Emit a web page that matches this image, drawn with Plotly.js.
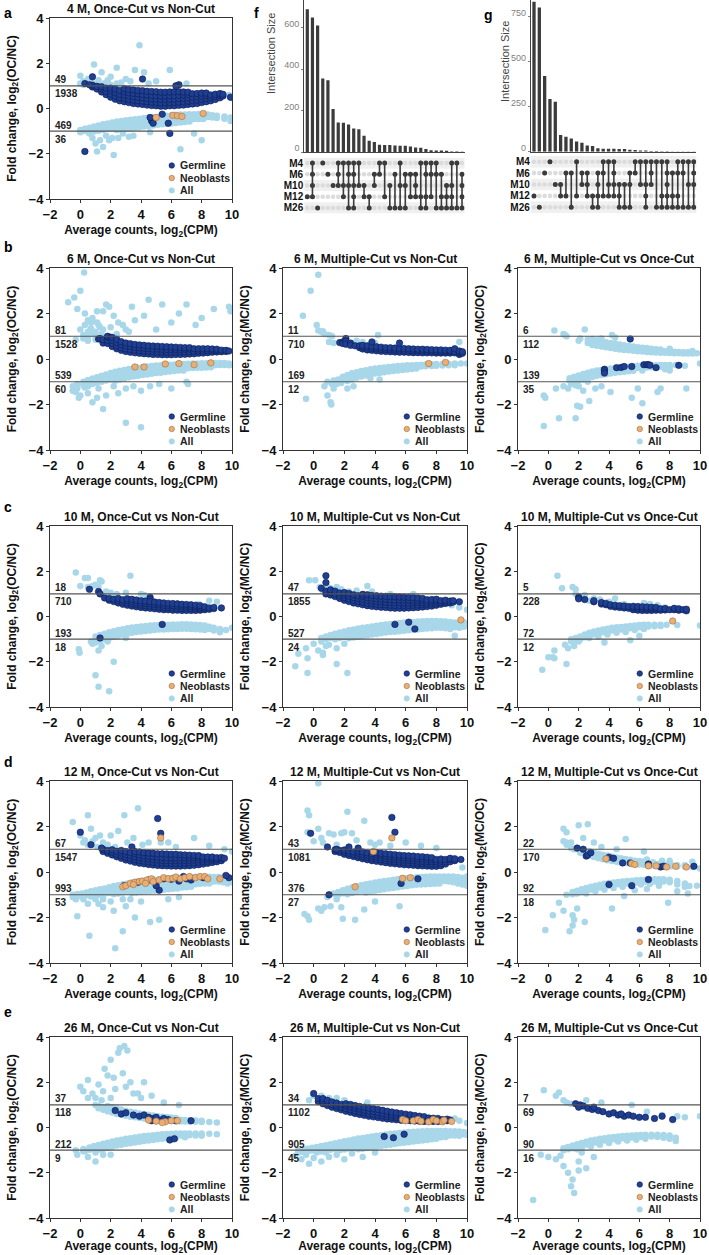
<!DOCTYPE html>
<html><head><meta charset="utf-8">
<script src="https://cdn.plot.ly/plotly-3.0.1.min.js"></script>
<style>html,body{margin:0;padding:0;background:#fff}#chart{width:709px;height:1255px}</style>
</head><body><div id="chart"></div>
<script>
// ---------- DATA (each entry: [x, y1, y2, ...] = points sharing an x value) ----------
// 4 M, Once-Cut vs Non-Cut
const counts_m4_oc=[49,1938,469,36];
const m4_oc_germ=[[0.8,0.95,1.03,1.4],[1.1,0.86,0.98],[1.4,0.73,0.86,0.96],[1.7,0.61,0.75,0.9],[2.0,0.5,0.64,0.78,0.9],[2.3,0.41,0.55,0.7,0.86],[2.6,0.34,0.48,0.63,0.8],[2.9,0.3,0.45,0.6,0.74,0.87],[3.2,0.26,0.4,0.55,0.7,0.84],[3.5,0.22,0.37,0.52,0.67,0.82],[3.8,0.2,0.35,0.5,0.65,0.8],[4.1,0.18,0.33,0.48,0.63,0.79,1.3],[4.4,0.15,0.3,0.45,0.6,0.76],[4.7,0.13,0.28,0.43,0.58,0.75,-0.55],[5.0,0.12,0.27,0.42,0.57,0.74],[5.3,0.1,0.25,0.4,0.55,0.72],[5.6,0.1,0.25,0.4,0.55,0.72],[5.9,0.12,0.26,0.41,0.56,0.73,-1.1],[6.2,0.12,0.27,0.42,0.57,0.74],[6.5,0.14,0.28,0.43,0.58,0.74,1.05],[6.8,0.15,0.3,0.45,0.6,0.73],[7.1,0.18,0.32,0.47,0.62,0.72],[7.4,0.2,0.35,0.5,0.65],[7.7,0.22,0.37,0.52,0.66],[8.0,0.26,0.4,0.55,0.68],[8.3,0.3,0.44,0.58,0.68],[8.6,0.34,0.48,0.6],[8.9,0.4,0.53,0.63],[9.2,0.47,0.58,0.66],[9.4,0.55,0.63],[0.3,-1.9,1.1],[0.6,1.05],[4.6,-0.4],[4.8,-0.65],[5.8,-0.65],[5.4,-0.25],[6.3,1.0],[9.9,0.5]];
const m4_oc_neo=[[5.0,-0.4],[6.1,-0.3],[6.4,-0.32],[6.7,-0.35],[8.1,-0.22]];
const m4_oc_all=[[0.0,1.45,1.1],[0.2,1.2,1.05],[0.5,1.3,1.1],[0.7,1.15,1.0],[0.9,1.95,1.1],[1.2,1.25,1.05],[1.4,1.6],[1.6,1.12],[1.8,1.25],[2.0,1.4,1.05],[2.4,1.8,1.1],[2.7,1.15],[3.0,1.3],[3.3,1.2],[3.6,1.7],[3.9,2.8],[4.2,1.6],[4.5,1.1],[5.0,1.2],[5.9,1.7],[7.0,1.1],[9.8,0.6],[10,0.45],
[0.0,-0.95,-1.05],[0.3,-0.9,-1.0],[0.6,-0.85,-0.97],[0.9,-0.8,-0.92,-1.02],[1.2,-0.75,-0.88,-0.98],[1.5,-0.7,-0.82,-0.95],[1.8,-0.66,-0.78,-0.9],[2.1,-0.62,-0.74,-0.87],[2.4,-0.58,-0.7,-0.84,-0.95],[2.7,-0.55,-0.67,-0.8,-0.92],[3.0,-0.52,-0.64,-0.77,-0.9],[3.3,-0.5,-0.62,-0.75,-0.88],[3.6,-0.47,-0.6,-0.72,-0.85],[3.9,-0.45,-0.57,-0.7,-0.83],[4.2,-0.42,-0.55,-0.68,-0.8],[4.5,-0.4,-0.52,-0.65,-0.78],[4.8,-0.38,-0.5,-0.62,-0.75],[5.1,-0.36,-0.48,-0.6,-0.72],[5.4,-0.34,-0.46,-0.58,-0.7],[5.7,-0.32,-0.44,-0.56,-0.68],[6.0,-0.3,-0.42,-0.54,-0.66],[6.3,-0.28,-0.4,-0.52,-0.64],[6.6,-0.27,-0.38,-0.5,-0.62],[6.9,-0.26,-0.37,-0.48,-0.6],[7.2,-0.25,-0.36,-0.47,-0.58],[7.5,-0.25,-0.35,-0.46],[7.8,-0.24,-0.35,-0.46],[8.1,-0.25,-0.35,-0.46],[8.4,-0.27,-0.38],[8.7,-0.3,-0.4],[9.0,-0.32,-0.42],[9.5,-0.35,-0.45],[9.9,-0.4,-0.55],
[0.6,-1.1],[0.8,-1.3],[1.0,-1.55],[1.1,-1.9],[1.3,-1.4],[1.5,-1.7],[1.7,-1.2],[1.9,-1.4],[2.1,-1.3],[2.2,-2.05],[2.5,-1.3],[2.8,-1.1],[3.2,-1.25],[3.5,-1.2],[4.6,-1.05],[6.6,-1.8],[7.5,-1.1],[8.0,-1.4]];

// 6 M, Once-Cut vs Non-Cut
const counts_m6_oc=[81,1528,539,60];
const m6_oc_germ=[[1.2,0.88],[1.3,0.9],[1.5,0.7,0.85],[1.8,0.68,0.82,0.97,1.0],[2.0,0.95],[2.1,0.55,0.68,0.82,0.95],[2.4,0.45,0.58,0.72,0.86],[2.7,0.38,0.5,0.63,0.76],[3.0,0.33,0.45,0.58,0.7],[3.3,0.3,0.42,0.55,0.67],[3.6,0.27,0.39,0.52,0.64],[3.9,0.25,0.37,0.5,0.62],[4.2,0.23,0.35,0.48,0.6],[4.5,0.22,0.34,0.46,0.58],[4.8,0.2,0.32,0.44,0.57],[5.1,0.2,0.32,0.44,0.56],[5.4,0.19,0.31,0.43,0.55],[5.7,0.19,0.3,0.42,0.54],[6.0,0.19,0.3,0.42,0.53],[6.3,0.2,0.31,0.42,0.52],[6.6,0.2,0.31,0.42,0.51],[6.9,0.21,0.32,0.43,0.5],[7.2,0.22,0.33,0.44,0.5],[7.5,0.23,0.34,0.45],[7.8,0.25,0.35,0.45],[8.1,0.26,0.36,0.45],[8.4,0.28,0.37,0.45],[8.7,0.3,0.38,0.44],[9.0,0.31,0.38,0.43],[9.3,0.32,0.39],[9.6,0.33,0.38],[9.8,0.35]];
const m6_oc_neo=[[3.6,-0.35],[4.2,-0.35],[5.6,-0.22],[6.5,-0.2],[7.5,-0.25],[8.6,-0.17]];
const m6_oc_all=[[-0.8,2.5],[-0.4,2.7],[0.0,3.0,1.3],[0.25,3.8],[-0.2,2.2],[0.3,2.0,1.5],[0.5,1.7,1.2],[0.7,1.6,1.35],[0.8,1.8],[1.1,1.6,2.1],[1.3,1.4],[1.0,1.2,0.85,1.0],[1.5,1.3,2.1],[1.7,2.4],[1.9,2.3],[2.0,1.4],[2.2,1.9],[2.5,1.6],[2.8,1.5],[3.0,1.3],[3.4,2.3],[3.6,1.7],[4.2,1.9],[4.5,2.6],[5.0,1.3],[5.4,2.4],[6.0,1.6],[6.5,2.0],[7.0,2.4],[7.6,1.5],[8.0,1.8],[8.8,2.2],[9.8,2.3],[9.9,2.1],[0.9,1.1],[1.4,1.1],[2.4,1.1],[3.2,1.2],[0.6,1.2],[-0.3,0.85],[0.2,0.9,1.05],[0.5,0.8,0.95],[1.2,1.5],
[-0.5,-1.2,-1.4],[-0.2,-1.1,-1.3],[0.2,-1.0,-1.15],[0.5,-0.92,-1.05,-1.2],[0.8,-0.86,-0.98,-1.1],[1.1,-0.8,-0.92,-1.05],[1.4,-0.74,-0.86,-1.0],[1.7,-0.68,-0.8,-0.95],[2.0,-0.62,-0.75,-0.9],[2.3,-0.56,-0.69,-0.83,-0.96],[2.6,-0.52,-0.64,-0.77,-0.9],[2.9,-0.48,-0.6,-0.73,-0.86],[3.2,-0.44,-0.56,-0.68,-0.8],[3.5,-0.41,-0.53,-0.65,-0.77],[3.8,-0.38,-0.5,-0.62,-0.74],[4.1,-0.36,-0.47,-0.59,-0.7],[4.4,-0.33,-0.44,-0.56,-0.68],[4.7,-0.31,-0.42,-0.53,-0.65],[5.0,-0.29,-0.4,-0.51,-0.62],[5.3,-0.27,-0.38,-0.49,-0.6],[5.6,-0.26,-0.36,-0.47,-0.57],[5.9,-0.25,-0.35,-0.45,-0.55],[6.2,-0.24,-0.34,-0.44,-0.53],[6.5,-0.23,-0.33,-0.43,-0.51],[6.8,-0.22,-0.32,-0.42,-0.5],[7.1,-0.21,-0.31,-0.41],[7.4,-0.2,-0.3,-0.4],[7.7,-0.2,-0.3,-0.39],[8.0,-0.19,-0.29,-0.38],[8.3,-0.19,-0.28,-0.37],[8.6,-0.18,-0.27,-0.36],[8.9,-0.18,-0.27],[9.2,-0.18,-0.26],[9.5,-0.18,-0.26],[9.8,-0.2,-0.28],[10,-0.25],
[-0.3,-1.45],[-0.1,-1.7],[0.0,-1.6],[0.3,-1.25],[0.5,-1.5],[0.8,-1.9],[1.2,-1.3],[1.5,-2.2],[1.7,-1.6],[1.1,-1.7],[2.2,-1.2],[2.5,-1.5],[3.0,-1.3,-2.8],[3.5,-1.2],[4.0,-1.4,-3.0],[4.6,-1.2],[5.2,-1.1],[6.0,-1.3],[7.1,-1.1],[7.0,-1.0]];

// 6 M, Multiple-Cut vs Non-Cut
const counts_m6_mc=[11,710,169,12];
const m6_mc_germ=[[1.7,0.72],[1.9,0.75,0.68],[2.1,0.9,0.78,0.65],[2.4,0.7,0.6],[2.7,0.58],[3.0,0.5,0.58],[3.2,0.44,0.53,0.6],[3.5,0.4,0.5,0.58],[3.8,0.38,0.47,0.56,0.75],[4.1,0.36,0.45,0.54],[4.4,0.34,0.43,0.52],[4.7,0.33,0.42,0.5],[5.0,0.32,0.41,0.49],[5.3,0.31,0.4,0.48],[5.6,0.3,0.39,0.47,0.7],[5.9,0.3,0.38,0.46],[6.2,0.29,0.37,0.45],[6.5,0.28,0.36,0.44],[6.8,0.28,0.36,0.43],[7.1,0.27,0.35,0.43],[7.4,0.27,0.35,0.42],[7.7,0.27,0.34,0.41],[8.0,0.26,0.33,0.4],[8.3,0.26,0.33,0.4],[8.6,0.26,0.32,0.39],[8.9,0.26,0.32,0.38],[9.2,0.27,0.33,0.45],[9.5,0.2,0.28,0.35],[9.7,0.25,0.32]];
const m6_mc_neo=[[7.5,-0.2],[8.6,-0.15]];
const m6_mc_all=[[-0.7,1.9],[-0.2,3.0],[0.3,3.7,1.25],[0.2,1.5],[0.5,1.2],[0.7,1.1],[0.6,1.22],[1.0,1.05,0.75],[1.2,1.0],[1.3,0.7],[2.5,0.7],[2.8,0.8],[3.2,0.75],[4.2,1.05],[4.0,0.7],[9.5,0.75],[10,-0.2],
[1.3,-0.95],[1.6,-0.9,-1.0],[1.9,-0.78,-0.92],[2.2,-0.7,-0.84,-0.97],[2.5,-0.63,-0.76,-0.9],[2.8,-0.58,-0.7,-0.82],[3.1,-0.53,-0.65,-0.77],[3.4,-0.49,-0.6,-0.72],[3.7,-0.45,-0.56,-0.68,-0.85],[4.0,-0.42,-0.53,-0.64],[4.3,-0.4,-0.5,-0.62,-0.9],[4.6,-0.37,-0.47,-0.58],[4.9,-0.35,-0.45,-0.55],[5.2,-0.33,-0.43,-0.53],[5.5,-0.31,-0.41,-0.5],[5.8,-0.3,-0.39,-0.48],[6.1,-0.28,-0.37,-0.46],[6.4,-0.27,-0.36,-0.44],[6.7,-0.26,-0.34,-0.42],[7.0,-0.25,-0.33],[7.3,-0.24,-0.32],[7.7,-0.23,-0.31],[8.0,-0.22,-0.3],[8.4,-0.22,-0.29],[8.8,-0.21,-0.28],[9.2,-0.2,-0.27],[9.6,-0.2],
[-0.5,-1.75],[0.7,-1.2],[0.9,-1.6,-1.0],[1.1,-1.9],[1.15,-2.0],[1.2,-1.1],[1.5,-1.1],[1.8,-1.05],[2.2,-1.3],[2.6,-1.2],[1.3,-1.3]];

// 6 M, Multiple-Cut vs Once-Cut
const counts_m6_mcoc=[6,112,139,35];
const m6_mcoc_germ=[[3.7,-0.45,-0.52,-0.62],[4.5,-0.38],[4.8,-0.37],[5.0,-0.33],[5.5,-0.33],[6.3,-0.25],[6.5,-0.25],[6.6,-0.25],[6.7,-0.27],[7.1,-0.38],[8.6,-0.28],[5.4,0.88]];
const m6_mcoc_neo=[];
const m6_mcoc_all=[[0.4,1.25],[1.0,1.1],[1.1,1.05],[1.2,1.0],[2.0,0.8],[2.4,1.3],[2.1,0.9],[2.6,0.7,0.85],[2.9,0.62,0.75,0.88],[3.2,0.58,0.7,0.82],[3.5,0.55,0.66,0.78,0.9],[3.8,0.52,0.62,0.74],[4.1,0.48,0.6,0.7],[4.2,1.05],[4.4,0.45,0.56,0.68,0.95],[4.7,0.42,0.53,0.64],[5.0,0.4,0.5,0.6],[5.3,0.38,0.47,0.57],[5.6,0.36,0.45,0.55],[5.9,0.34,0.43,0.52],[6.2,0.33,0.41,0.5],[6.5,0.31,0.39,0.48],[6.8,0.3,0.37,0.45],[7.1,0.29,0.36,0.43],[7.4,0.28,0.35,0.42],[7.7,0.27,0.34],[8.0,0.26,0.33,0.45],[8.3,0.25,0.32],[8.6,0.25,0.31],[8.9,0.24,0.3],[9.2,0.24,0.3],[9.5,0.24,0.35],[9.8,0.25],[10,-0.2],
[1.4,-0.85,-0.95],[1.7,-0.78,-0.9,-1.0],[2.0,-0.72,-0.84,-0.96],[2.3,-0.66,-0.78,-0.9],[2.6,-0.6,-0.72,-0.84],[2.9,-0.55,-0.67,-0.79],[3.2,-0.51,-0.62,-0.74],[3.5,-0.48,-0.59,-0.7],[3.8,-0.45,-0.56,-0.67],[4.1,-0.42,-0.53,-0.64],[4.4,-0.4,-0.5,-0.6],[4.7,-0.38,-0.48,-0.58],[5.0,-0.36,-0.46,-0.56],[5.3,-0.34,-0.44,-0.54],[5.6,-0.32,-0.42,-0.52],[5.9,-0.3,-0.4],[6.2,-0.29,-0.38,-0.5],[6.5,-0.28,-0.37],[6.8,-0.27,-0.36],[7.1,-0.27,-0.35],[7.4,-0.26,-0.34],[7.7,-0.26,-0.34,-0.45],[8.0,-0.26,-0.35,-0.5],[8.4,-0.26],[9.0,-0.3],
[-0.3,-1.6,-2.95],[-0.2,-1.7],[0.7,-2.6],[0.5,-1.3],[1.0,-1.2],[1.5,-1.1],[1.8,-2.6,-1.15],[1.9,-2.05],[2.1,-2.1],[2.0,-1.2],[2.3,-1.4],[2.7,-1.85],[3.1,-1.3],[3.5,-1.2],[4.1,-1.45],[5.5,-1.7],[5.9,-1.3],[6.2,-1.95],[7.2,-1.45],[7.4,-1.3],[9.1,-1.3],[1.3,-1.3],[2.6,-1.0]];

// 10 M, Once-Cut vs Non-Cut
const counts_m10_oc=[18,710,193,18];
const m10_oc_germ=[[0.6,1.2],[1.2,1.1],[1.3,1.0,-0.95],[1.6,0.82],[5.4,-0.35],[9.3,0.38],[4.6,0.85,0.75],[1.9,0.72,0.8],[2.2,0.66,0.76],[2.5,0.6,0.7,0.8],[2.8,0.54,0.64,0.74],[3.1,0.5,0.6,0.7,0.78],[3.4,0.46,0.56,0.66,0.76],[3.7,0.43,0.53,0.63,0.73],[4.0,0.4,0.5,0.6,0.7],[4.3,0.38,0.48,0.58,0.68],[4.6,0.36,0.46,0.56,0.66],[4.9,0.34,0.44,0.54,0.64],[5.2,0.32,0.42,0.52,0.62],[5.5,0.3,0.4,0.5,0.6],[5.8,0.3,0.39,0.49,0.58],[6.1,0.28,0.38,0.48,0.57],[6.4,0.28,0.37,0.47,0.56],[6.7,0.27,0.36,0.46,0.54],[7.0,0.27,0.36,0.45,0.53],[7.3,0.27,0.35,0.44,0.52],[7.6,0.27,0.35,0.43,0.5],[7.9,0.28,0.35,0.42,0.48],[8.2,0.3,0.37,0.43],[8.5,0.32,0.38],[8.8,0.35,0.4]];
const m10_oc_neo=[];
const m10_oc_all=[[-0.3,1.95],[0.0,1.35],[0.3,1.7],[0.5,1.7,1.3],[1.0,1.4],[1.3,1.6],[1.4,1.55],[1.7,1.1],[2.0,1.05],[2.4,1.0],[3.3,1.8],[3.0,1.05],[4.0,1.0],[4.2,0.95],[8.5,0.7],[9.0,0.65],[7.8,0.55],[1.2,1.3],[2.2,0.9],[0.8,1.35],
[1.0,-0.88,-1.05],[1.3,-0.82,-0.95,-1.08],[1.6,-0.76,-0.88,-1.0],[1.9,-0.7,-0.82,-0.95],[2.2,-0.65,-0.77,-0.9],[2.5,-0.6,-0.72,-0.85],[2.8,-0.56,-0.68,-0.8],[3.1,-0.52,-0.64,-0.76],[3.4,-0.49,-0.6,-0.72],[3.7,-0.46,-0.57,-0.69],[4.0,-0.44,-0.55,-0.66],[4.3,-0.42,-0.53,-0.64],[4.6,-0.4,-0.51,-0.62],[4.9,-0.39,-0.49,-0.6],[5.2,-0.38,-0.48,-0.58],[5.5,-0.37,-0.47,-0.57],[5.8,-0.36,-0.46,-0.56],[6.1,-0.35,-0.45,-0.55],[6.4,-0.35,-0.45,-0.55],[6.7,-0.34,-0.44,-0.54],[7.0,-0.34,-0.44,-0.54],[7.3,-0.35,-0.45,-0.55],[7.6,-0.36,-0.46,-0.56],[7.9,-0.38,-0.48,-0.58],[8.2,-0.4,-0.5,-0.6],[8.5,-0.45,-0.55],[8.8,-0.5,-0.62],[9.2,-0.55,-0.7],[9.6,-0.6],[10,-0.5],
[-0.1,-1.45],[-0.05,-1.6],[0.8,-1.2],[1.0,-1.15,-2.6],[1.2,-1.5,-3.1],[1.4,-1.3],[1.9,-3.3],[2.2,-2.0],[1.8,-1.1],[3.0,-0.95],[0.7,-1.1]];

// 10 M, Multiple-Cut vs Non-Cut
const counts_m10_mc=[47,1855,527,24];
const m10_mc_germ=[[0.5,1.25],[0.8,1.8,1.5,1.0,1.12],[9.5,0.65],[5.3,-0.35],[6.2,-0.25],[6.6,-0.55],[1.1,0.95,1.07,1.18],[1.4,0.88,1.0,1.12],[1.7,0.8,0.92,1.04],[2.0,0.72,0.84,0.96,1.06],[2.3,0.66,0.78,0.9,1.02],[2.6,0.6,0.72,0.84,0.96],[2.9,0.56,0.68,0.8,0.92],[3.2,0.52,0.64,0.76,0.88,0.98],[3.5,0.48,0.6,0.72,0.84,0.96],[3.8,0.45,0.57,0.69,0.81,0.93],[4.1,0.43,0.55,0.67,0.79,0.92],[4.4,0.41,0.53,0.65,0.77,0.9],[4.7,0.4,0.52,0.64,0.76,0.89],[5.0,0.38,0.5,0.62,0.74,0.88],[5.3,0.37,0.49,0.61,0.73,0.87],[5.6,0.37,0.49,0.61,0.73,0.86],[5.9,0.37,0.48,0.6,0.72,0.85],[6.2,0.38,0.49,0.6,0.72,0.84],[6.5,0.39,0.5,0.61,0.72,0.83],[6.8,0.4,0.51,0.62,0.72,0.82],[7.1,0.42,0.52,0.62,0.72,0.8],[7.4,0.44,0.54,0.64,0.74],[7.7,0.46,0.56,0.66,0.75],[8.0,0.5,0.59,0.68,0.76],[8.3,0.54,0.62,0.7],[8.6,0.58,0.65,0.72],[8.9,0.6,0.68],[9.1,0.64,0.7]];
const m10_mc_neo=[[9.6,-0.15]];
const m10_mc_all=[[-0.3,1.6],[0.1,1.6],[0.4,1.3],[0.9,1.3],[1.1,1.25],[1.5,1.3],[1.8,1.2],[2.3,1.1],[2.8,1.15],[3.5,1.35],[3.8,1.1],[5.0,1.0],[6.5,1.0],[8.5,0.55],[9.0,0.5],[9.5,0.4],[10,0.3],[0.6,1.15],
[0.5,-0.95],[0.8,-0.88,-1.0],[1.1,-0.82,-0.94],[1.4,-0.76,-0.88,-1.0],[1.7,-0.71,-0.83,-0.95],[2.0,-0.66,-0.78,-0.9],[2.3,-0.61,-0.73,-0.85,-0.96],[2.6,-0.57,-0.69,-0.81,-0.93],[2.9,-0.53,-0.65,-0.77,-0.89],[3.2,-0.5,-0.62,-0.74,-0.86],[3.5,-0.47,-0.59,-0.71,-0.83],[3.8,-0.44,-0.56,-0.68,-0.8],[4.1,-0.41,-0.53,-0.65,-0.77],[4.4,-0.38,-0.5,-0.62,-0.74],[4.7,-0.35,-0.47,-0.59,-0.71],[5.0,-0.33,-0.45,-0.57,-0.69],[5.3,-0.31,-0.43,-0.55,-0.67],[5.6,-0.29,-0.41,-0.53,-0.65],[5.9,-0.27,-0.39,-0.51,-0.63],[6.2,-0.25,-0.37,-0.49,-0.61],[6.5,-0.24,-0.35,-0.47,-0.59],[6.8,-0.22,-0.34,-0.45,-0.57],[7.1,-0.21,-0.32,-0.44,-0.55],[7.4,-0.2,-0.31,-0.42,-0.53],[7.7,-0.2,-0.3,-0.41,-0.52],[8.0,-0.2,-0.3,-0.4,-0.5],[8.3,-0.21,-0.31,-0.41,-0.5],[8.6,-0.22,-0.32,-0.42,-0.52],[8.9,-0.24,-0.34,-0.45,-0.55],[9.2,-0.26,-0.36,-0.48,-0.85],[9.5,-0.28,-0.38,-0.5],[9.8,-0.25,-0.35,-0.45],[10,-0.3,-0.4],
[-1.2,-2.2],[-1.0,-1.65],[-0.5,-1.4],[-0.4,-1.85,-2.5],[0.0,-1.2],[0.3,-1.5],[0.6,-1.7,-1.6],[0.8,-1.3],[1.0,-1.25],[1.5,-1.4,-2.1],[2.0,-1.2],[2.2,-2.5],[0.5,-1.1]];

// 10 M, Multiple-Cut vs Once-Cut
const counts_m10_mcoc=[5,228,72,12];
const m10_mcoc_germ=[[2.0,0.85,0.78],[2.4,0.75],[3.0,0.65,0.7],[3.5,0.55,0.62],[3.8,0.52,0.58],[4.1,0.45,0.52],[4.4,0.42,0.5],[4.7,0.4,0.48],[5.0,0.38,0.46],[5.3,0.36,0.44],[5.6,0.3,0.38,0.45],[5.9,0.28,0.36,0.44],[6.2,0.27,0.35,0.43],[6.5,0.27,0.35,0.42],[6.8,0.27,0.34,0.41],[7.1,0.28,0.35,0.4],[7.4,0.28,0.34],[7.7,0.29,0.35],[8.0,0.3],[8.3,0.3,0.36],[8.6,0.28,0.34],[8.9,0.3],[9.1,0.25,0.32]];
const m10_mcoc_neo=[[8.2,-0.2]];
const m10_mcoc_all=[[0.6,1.8],[0.9,1.25],[1.6,1.3],[1.8,1.2,1.0],[2.0,0.9],[2.4,0.95],[3.0,0.8],[3.4,0.75],[4.4,0.8],[4.0,0.65],[5.0,0.55],[6.3,0.6],[6.7,0.55],[7.2,0.5],[7.7,0.4],[2.7,0.7],
[1.5,-1.0,-1.1],[1.8,-0.95,-1.05],[2.1,-0.88,-1.0],[2.4,-0.8,-0.92],[2.7,-0.72,-0.85,-0.95],[3.0,-0.66,-0.78],[3.3,-0.62,-0.74,-0.88],[3.6,-0.58,-0.7],[3.9,-0.54,-0.66,-0.8],[4.2,-0.5,-0.62],[4.5,-0.48,-0.6,-0.72],[4.8,-0.46,-0.57],[5.1,-0.44,-0.55,-0.68],[5.4,-0.42,-0.52],[5.7,-0.4,-0.5,-0.6],[6.0,-0.38,-0.48],[6.3,-0.37,-0.46,-0.55],[6.6,-0.36,-0.44],[7.0,-0.36,-0.43],[7.4,-0.36,-0.42],[7.8,-0.36],[8.5,-0.38],[10,-0.4],
[-0.4,-2.35],[0.0,-1.8],[0.3,-1.8],[0.4,-1.85,-1.5],[1.2,-2.1],[1.3,-1.4],[1.1,-1.25],[1.7,-1.3],[2.0,-1.1],[3.7,-1.15],[5.4,-1.05],[6.0,-0.85]];

// 12 M, Once-Cut vs Non-Cut
const counts_m12_oc=[67,1547,993,53];
const m12_oc_germ=[[1.5,0.9,1.0],[1.8,0.82,0.94],[2.1,0.75,0.87,0.98],[2.4,0.67,0.79,0.91],[2.7,0.6,0.72,0.84,0.95],[3.0,0.53,0.65,0.77,0.9],[3.3,0.48,0.6,0.72,0.85],[3.6,0.43,0.55,0.67,0.8,0.9],[3.9,0.39,0.51,0.63,0.75,0.88],[4.2,0.36,0.48,0.6,0.72,0.85],[4.5,0.33,0.45,0.57,0.69,0.83],[4.8,0.31,0.43,0.55,0.67,0.82],[5.1,0.29,0.41,0.53,0.65,0.8],[5.4,0.28,0.4,0.52,0.64,0.8],[5.7,0.27,0.39,0.51,0.63,0.79],[6.0,0.26,0.38,0.5,0.62,0.78],[6.3,0.26,0.38,0.5,0.62,0.78],[6.6,0.26,0.38,0.5,0.62,0.76],[6.9,0.27,0.39,0.51,0.63,0.75],[7.2,0.28,0.4,0.52,0.63,0.74],[7.5,0.3,0.41,0.53,0.64,0.73],[7.8,0.32,0.43,0.54,0.65,0.72],[8.1,0.35,0.46,0.56,0.66],[8.4,0.38,0.48,0.58,0.66],[8.7,0.42,0.52,0.6,0.66],[9.0,0.45,0.55,0.63],[9.3,0.5,0.58,0.64],
[0.0,1.75],[0.7,1.2],[1.4,1.05],[3.4,1.1],[5.1,2.35],[5.3,1.7],[9.5,0.6],[9.8,-0.25],[9.6,-0.15],[5.2,-0.8],[5.0,-0.6],[2.9,-0.6],[4.5,-0.35],[5.5,-0.3],[6.0,-0.32],[6.5,-0.4],[7.0,-0.3],[7.3,-0.35],[8.1,-0.25],[6.8,-0.2],[3.8,-0.45]];
const m12_oc_neo=[[2.8,-0.65],[3.0,-0.6],[3.3,-0.5],[3.6,-0.45],[3.9,-0.42],[4.1,-0.4],[4.4,-0.35],[4.7,-0.3],[4.8,-0.42],[5.2,-0.35],[5.5,-0.25],[5.8,-0.3],[6.1,-0.28],[6.3,-0.22],[6.6,-0.3],[6.9,-0.25],[7.2,-0.2],[7.6,-0.25],[7.9,-0.2],[8.2,-0.2],[8.4,-0.3],[9.2,-0.3],[5.3,1.5],[4.3,-0.5],[3.5,-0.55]];
const m12_oc_all=[[-0.5,2.2],[0.5,2.5,1.2],[0.0,1.6],[0.3,1.4],[0.7,1.9],[1.0,1.5],[1.3,1.6],[2.0,1.6],[2.5,1.8],[2.9,2.5],[3.1,1.3],[3.5,1.5],[3.8,2.8],[4.1,1.2],[4.5,1.3],[5.3,1.3],[5.8,1.3],[6.3,1.1],[7.5,1.5],[8.5,1.15],[9.5,1.0],[10,0.9],[1.8,1.2],[2.3,1.1],[1.1,1.1],[0.2,1.3],[0.8,1.35],[1.5,1.3],
[-0.5,-1.0,-1.1],[-0.2,-0.97,-1.08],[0.1,-0.94,-1.05],[0.4,-0.9,-1.02],[0.7,-0.85,-0.97,-1.08],[1.0,-0.8,-0.92,-1.04],[1.3,-0.76,-0.88,-1.0],[1.6,-0.72,-0.84,-0.96],[1.9,-0.67,-0.79,-0.91],[2.2,-0.62,-0.74,-0.86,-0.98],[2.5,-0.58,-0.7,-0.82,-0.94],[2.8,-0.54,-0.66,-0.78,-0.9],[3.1,-0.5,-0.62,-0.74,-0.86],[3.4,-0.46,-0.58,-0.7,-0.82,-0.93],[3.7,-0.43,-0.55,-0.67,-0.79,-0.9],[4.0,-0.4,-0.52,-0.64,-0.76,-0.88],[4.3,-0.38,-0.5,-0.62,-0.74,-0.86],[4.6,-0.36,-0.48,-0.6,-0.72,-0.84],[4.9,-0.34,-0.46,-0.58,-0.7,-0.82],[5.2,-0.32,-0.44,-0.56,-0.68,-0.8],[5.5,-0.3,-0.42,-0.54,-0.66,-0.78],[5.8,-0.28,-0.4,-0.52,-0.64,-0.76],[6.1,-0.26,-0.38,-0.5,-0.62,-0.74],[6.4,-0.25,-0.36,-0.48,-0.6,-0.72],[6.7,-0.24,-0.35,-0.46,-0.57,-0.68],[7.0,-0.23,-0.34,-0.45,-0.56,-0.67],[7.3,-0.22,-0.33,-0.44,-0.55,-0.65],[7.6,-0.21,-0.32,-0.43,-0.54],[7.9,-0.21,-0.31,-0.42,-0.52],[8.2,-0.21,-0.31,-0.41,-0.51],[8.5,-0.21,-0.31,-0.41,-0.5],[8.8,-0.22,-0.32,-0.42],[9.1,-0.22,-0.32,-0.42],[9.4,-0.23,-0.33,-0.45],[9.7,-0.25,-0.35,-0.5],[10,-0.3,-0.45],
[-0.2,-1.95],[0.6,-2.8],[0.5,-1.4],[1.0,-1.2],[1.5,-1.55,-1.2],[2.0,-1.3],[2.2,-1.7],[2.3,-3.35],[2.8,-1.2,-2.6],[3.0,-1.5],[3.3,-1.2],[3.6,-2.0],[4.0,-1.3],[4.6,-2.2],[5.2,-2.1],[5.8,-1.2],[6.5,-1.1],[0.2,-1.2],[1.2,-1.4],[-0.3,-1.2]];

// 12 M, Multiple-Cut vs Non-Cut
const counts_m12_mc=[43,1081,376,27];
const m12_mc_germ=[[1.4,0.9,0.98],[1.7,0.86,0.95],[2.0,0.78,0.88,0.97],[2.3,0.73,0.83,0.93,1.1],[2.6,0.68,0.78,0.88],[2.9,0.63,0.73,0.83,0.92,1.05],[3.2,0.58,0.68,0.78,0.88],[3.5,0.54,0.64,0.74,0.84],[3.8,0.5,0.6,0.7,0.8],[4.1,0.47,0.57,0.67,0.77,0.85],[4.4,0.44,0.54,0.64,0.74,0.82],[4.7,0.41,0.51,0.61,0.71,0.8],[5.0,0.38,0.48,0.58,0.68,0.78],[5.3,0.36,0.46,0.56,0.66,0.76,1.75],[5.6,0.34,0.44,0.54,0.64,0.74],[5.9,0.32,0.42,0.52,0.62,0.72],[6.2,0.31,0.41,0.51,0.61,0.71],[6.5,0.3,0.4,0.5,0.6,0.7],[6.8,0.28,0.38,0.48,0.58,0.68,-0.3],[7.1,0.27,0.37,0.47,0.57,0.67],[7.4,0.26,0.36,0.46,0.56,0.65],[7.7,0.25,0.35,0.45,0.55,0.63],[8.0,0.25,0.35,0.45,0.55],[8.3,0.28,0.38,0.48,0.57],[8.6,0.35,0.45,0.55],[8.9,0.45,0.55,0.6],[9.2,0.5,0.58],
[-0.2,1.7],[0.9,1.1],[1.5,1.0],[5.1,2.4],[9.6,0.55],[1.0,-1.0],[5.7,-0.5]];
const m12_mc_neo=[[5.1,1.5],[3.9,0.9],[2.7,-0.65],[5.8,-0.28],[6.3,-0.25]];
const m12_mc_all=[[-0.4,2.7,1.75],[-0.3,2.5],[0.3,3.9,1.9],[0.0,1.35],[0.5,1.5],[1.0,1.7],[1.3,1.65],[1.8,1.7],[2.0,1.75],[2.2,2.65],[2.5,1.7],[2.8,1.4],[3.3,2.25],[3.7,1.3],[4.0,1.2],[4.3,1.3],[5.0,1.15],[6.0,1.3],[7.0,1.15],[8.0,1.05],[0.6,1.3],[1.5,1.2],[9.7,0.2],[10,-0.2],
[1.3,-0.95],[1.6,-0.88,-1.0],[1.9,-0.8,-0.93],[2.2,-0.74,-0.86,-0.98],[2.5,-0.68,-0.8,-0.92],[2.8,-0.63,-0.75,-0.87],[3.1,-0.58,-0.7,-0.82],[3.4,-0.54,-0.66,-0.78,-0.9],[3.7,-0.5,-0.62,-0.74,-0.86],[4.0,-0.46,-0.58,-0.7,-0.82],[4.3,-0.43,-0.55,-0.67,-0.79],[4.6,-0.4,-0.52,-0.64,-0.76],[4.9,-0.37,-0.49,-0.61,-0.73],[5.2,-0.34,-0.46,-0.58,-0.7],[5.5,-0.31,-0.43,-0.55,-0.67],[5.8,-0.29,-0.41,-0.53,-0.64],[6.1,-0.27,-0.38,-0.5,-0.61],[6.4,-0.25,-0.36,-0.47,-0.58],[6.7,-0.23,-0.34,-0.45,-0.56],[7.0,-0.22,-0.33,-0.44,-0.55],[7.3,-0.21,-0.32,-0.43,-0.54],[7.6,-0.2,-0.31,-0.42,-0.53],[7.9,-0.2,-0.3,-0.41,-0.52],[8.2,-0.2,-0.3,-0.4,-0.5],[8.5,-0.2,-0.3,-0.4],[8.8,-0.2,-0.3,-0.42],[9.1,-0.2,-0.32,-0.45],[9.4,-0.22,-0.35,-0.5],[9.7,-0.25,-0.4,-0.55],[10,-0.3,-0.45,-0.6],
[-0.6,-1.85],[-0.4,-1.95],[-0.3,-2.1],[0.3,-1.6],[0.5,-1.7],[0.7,-1.55],[1.1,-1.5],[1.5,-1.2,-1.05],[1.8,-1.55],[1.9,-2.05],[2.7,-2.1],[3.3,-1.65],[4.0,-1.3],[5.6,-1.5],[0.9,-1.1]];

// 12 M, Multiple-Cut vs Once-Cut
const counts_m12_mcoc=[22,170,92,18];
const m12_mcoc_germ=[[1.9,1.05],[2.3,1.0],[2.5,0.7],[2.6,0.75],[2.8,0.85],[4.0,0.65,-0.55],[4.3,0.6],[4.9,0.4],[5.4,0.4],[6.6,0.35,0.3,-0.33],[7.4,0.22],[7.6,0.25],[9.6,0.25],[5.5,-0.6]];
const m12_mcoc_neo=[[3.8,0.58],[5.5,0.37],[5.7,0.33],[6.6,0.27],[7.1,0.27],[7.8,0.22],[8.4,0.25],[9.1,0.22]];
const m12_mcoc_all=[[1.0,1.9,1.35],[1.2,1.75,1.3,1.2],[1.5,1.3,1.05],[1.7,1.0],[2.0,2.05,1.0],[2.6,2.1],[2.3,1.5],[3.0,1.3],[3.5,1.1],[4.5,1.0],[5.1,1.45],[6.3,0.9],[6.5,0.55],[7.5,0.5],[8.0,0.5],[9.5,0.45],[10,0.15],
[2.1,0.85,0.95],[2.4,0.8,0.9],[2.7,0.72,0.82,0.92],[3.0,0.66,0.76,0.86],[3.3,0.6,0.7,0.8],[3.6,0.56,0.66,0.76],[3.9,0.52,0.62,0.72],[4.2,0.48,0.58,0.68],[4.5,0.45,0.54,0.64],[4.8,0.42,0.5,0.6],[5.1,0.4,0.48,0.57],[5.4,0.37,0.45,0.54],[5.7,0.35,0.43,0.5],[6.0,0.33,0.41,0.48],[6.3,0.32,0.4,0.46],[6.6,0.3,0.38],[6.9,0.29,0.36,0.43],[7.2,0.28,0.35],[7.5,0.27,0.34],[7.8,0.26,0.32],[8.1,0.25,0.32],[8.5,0.24,0.3],[9.0,0.23,0.3],[9.5,0.22],
[1.2,-1.0],[1.6,-0.88,-0.98],[1.9,-0.82,-0.94],[2.2,-0.76,-0.88],[2.5,-0.7,-0.82,-0.94],[2.8,-0.65,-0.77],[3.1,-0.6,-0.72,-0.85],[3.4,-0.56,-0.68],[3.7,-0.52,-0.64,-0.78],[4.0,-0.48,-0.6],[4.3,-0.46,-0.57,-0.7],[4.6,-0.44,-0.54],[4.9,-0.42,-0.52,-0.65],[5.2,-0.4,-0.5],[5.5,-0.38,-0.48,-0.58],[5.8,-0.36,-0.46],[6.1,-0.35,-0.44,-0.55],[6.4,-0.34,-0.43],[6.7,-0.33,-0.42,-0.52],[7.0,-0.32,-0.42],[7.3,-0.32,-0.4,-0.6],[7.6,-0.32,-0.42],[8.0,-0.34,-0.45],[8.5,-0.4,-0.55],[9.0,-0.5,-0.65],[9.3,-0.62],[9.8,-0.6],
[-0.2,-2.55],[0.3,-1.9],[1.0,-1.7],[0.7,-1.35],[1.6,-1.9,-2.35],[1.7,-2.1],[1.4,-2.6],[2.4,-2.2],[1.9,-1.6],[4.2,-1.6],[5.0,-1.05],[5.7,-0.8],[6.5,-0.75],[7.9,-1.35],[8.5,-0.85],[9.2,-0.95]];

// 26 M, Once-Cut vs Non-Cut
const counts_m26_oc=[37,118,212,9];
const m26_oc_germ=[[2.3,0.75],[2.7,0.6],[3.0,0.65],[3.5,0.55],[3.9,0.5],[4.2,0.55],[4.5,0.45],[4.8,0.4],[5.0,0.45],[5.3,0.32],[5.5,0.4],[5.8,0.35],[6.3,0.3],[7.3,0.3],[5.9,-0.55],[6.2,-0.5],[4.7,0.3]];
const m26_oc_neo=[[5.0,0.28],[5.6,0.25],[6.0,0.3],[4.5,0.33],[5.4,0.22],[6.4,0.3]];
const m26_oc_all=[[0.0,1.8],[0.5,2.1,1.3],[0.8,1.5],[1.0,1.3,1.0],[1.5,1.6],[1.6,2.6],[1.8,2.3],[2.0,3.0,1.3],[2.2,2.2],[2.5,3.3],[2.6,3.5],[2.9,3.6],[3.1,3.4],[2.8,2.4],[3.3,2.0],[3.5,1.5],[4.0,1.3],[4.2,2.0],[4.7,1.4],[5.5,1.1],[6.5,1.0],[0.2,1.6],[1.2,1.9],[2.3,1.7],[3.0,1.8],[3.8,1.5],[1.4,1.2],
[1.2,0.85,0.95],[1.5,0.78,0.9],[1.8,0.72,0.84,0.95],[2.1,0.66,0.78,0.9],[2.4,0.6,0.72,0.84],[2.7,0.56,0.68,0.8],[3.0,0.52,0.62,0.74],[3.3,0.48,0.58,0.7],[3.6,0.45,0.55,0.66],[3.9,0.42,0.52,0.62],[4.2,0.4,0.49,0.6],[4.5,0.37,0.46,0.56],[4.8,0.35,0.44,0.53],[5.1,0.33,0.42,0.5],[5.4,0.32,0.4,0.48],[5.7,0.3,0.38,0.46],[6.0,0.29,0.36,0.44],[6.3,0.28,0.35,0.42],[6.6,0.27,0.34],[6.9,0.26,0.33],[7.2,0.25,0.32],[7.6,0.25,0.31],[8.0,0.24,0.3],[8.5,0.24],[9.0,0.22],
[-0.3,-1.0],[0.2,-0.95,-1.05],[0.6,-0.88,-0.98],[0.9,-0.82,-0.94],[1.2,-0.77,-0.88,-0.98],[1.5,-0.72,-0.83,-0.95],[1.8,-0.67,-0.78,-0.9],[2.1,-0.62,-0.73,-0.85],[2.4,-0.58,-0.69,-0.8],[2.7,-0.54,-0.65,-0.76],[3.0,-0.5,-0.61,-0.72],[3.3,-0.47,-0.58,-0.7],[3.6,-0.44,-0.55,-0.66],[3.9,-0.41,-0.52,-0.63],[4.2,-0.38,-0.49,-0.6],[4.5,-0.36,-0.47,-0.58],[4.8,-0.34,-0.44,-0.55],[5.1,-0.32,-0.42,-0.52],[5.4,-0.3,-0.4,-0.5],[5.7,-0.29,-0.38,-0.48],[6.0,-0.28,-0.37,-0.46],[6.3,-0.27,-0.36,-0.45],[6.6,-0.27,-0.35],[6.9,-0.26,-0.34,-0.43],[7.2,-0.26,-0.34],[7.6,-0.26,-0.35],[8.0,-0.27,-0.36],[8.5,-0.28],[9.0,-0.3],
[-0.2,-1.2],[0.5,-1.3],[1.0,-1.1,-1.5],[1.5,-1.2],[2.0,-1.2],[0.3,-1.05]];

// 26 M, Multiple-Cut vs Non-Cut
const counts_m26_mc=[34,1102,905,45];
const m26_mc_germ=[[0.3,1.15,1.28],[0.6,1.05,1.17,1.28],[0.9,0.97,1.09,1.2],[1.2,0.9,1.02,1.13],[1.5,0.84,0.96,1.08],[1.8,0.78,0.9,1.02],[2.1,0.72,0.84,0.96,1.05],[2.4,0.67,0.79,0.91,1.02],[2.7,0.62,0.74,0.86,0.97],[3.0,0.58,0.7,0.82,0.93],[3.3,0.54,0.65,0.77,0.9],[3.6,0.5,0.61,0.73,0.86],[3.9,0.47,0.58,0.7,0.83],[4.2,0.44,0.55,0.66,0.8],[4.5,0.41,0.52,0.63,0.76],[4.8,0.38,0.49,0.6,0.72],[5.1,0.36,0.46,0.57,0.68],[5.4,0.34,0.44,0.54,0.65],[5.7,0.32,0.42,0.52,0.62],[6.0,0.31,0.4,0.5,0.59],[6.3,0.3,0.39,0.48,0.56],[6.6,0.29,0.37,0.46,0.53],[6.9,0.28,0.36,0.44,0.5],[7.2,0.27,0.35,0.43,0.48],[7.5,0.27,0.34,0.42],[7.8,0.27,0.34,0.41],[8.1,0.27,0.34,0.4],[8.4,0.28,0.35],[8.7,0.3,0.37],[8.9,0.33],
[0.0,1.5],[4.6,-0.4],[5.2,-0.45],[5.9,-0.3]];
const m26_mc_neo=[[5.8,0.35],[6.0,0.3],[6.5,0.3],[6.8,0.35],[7.0,0.28],[7.5,0.25],[7.8,0.35],[8.0,0.3],[8.4,0.25],[8.5,0.32],[9.0,0.27]];
const m26_mc_all=[[0.0,1.4],[-0.3,1.2],[1.5,1.3],[2.0,1.2],[3.5,1.1],[9.2,0.4],[9.5,0.3],[10,0.2],[0.5,1.4],[1.0,1.3],
[-1.0,-1.0,-1.1],[-0.7,-0.97,-1.08],[-0.4,-0.94,-1.05],[-0.1,-0.9,-1.02],[0.2,-0.86,-0.98,-1.1],[0.5,-0.82,-0.94,-1.06],[0.8,-0.78,-0.9,-1.02],[1.1,-0.74,-0.86,-0.98],[1.4,-0.7,-0.82,-0.94],[1.7,-0.65,-0.77,-0.89,-1.0],[2.0,-0.61,-0.73,-0.85,-0.97],[2.3,-0.57,-0.69,-0.81,-0.93],[2.6,-0.53,-0.65,-0.77,-0.89],[2.9,-0.49,-0.61,-0.73,-0.85,-0.96],[3.2,-0.46,-0.58,-0.7,-0.82,-0.94],[3.5,-0.43,-0.55,-0.67,-0.79,-0.91],[3.8,-0.4,-0.52,-0.64,-0.76,-0.88],[4.1,-0.37,-0.49,-0.61,-0.73,-0.85],[4.4,-0.34,-0.46,-0.58,-0.7,-0.82],[4.7,-0.31,-0.43,-0.55,-0.67,-0.79],[5.0,-0.28,-0.4,-0.52,-0.64,-0.76],[5.3,-0.26,-0.38,-0.5,-0.62,-0.73],[5.6,-0.24,-0.36,-0.48,-0.6,-0.7],[5.9,-0.22,-0.34,-0.46,-0.57,-0.67],[6.2,-0.2,-0.32,-0.44,-0.55,-0.65],[6.5,-0.19,-0.3,-0.42,-0.53,-0.62],[6.8,-0.18,-0.29,-0.4,-0.5,-0.6],[7.1,-0.17,-0.28,-0.39,-0.49,-0.58],[7.4,-0.16,-0.27,-0.37,-0.47,-0.55],[7.7,-0.16,-0.26,-0.36,-0.45,-0.52],[8.0,-0.16,-0.26,-0.35,-0.44,-0.5],[8.3,-0.16,-0.25,-0.34,-0.43],[8.6,-0.16,-0.25,-0.34,-0.42],[8.9,-0.17,-0.26,-0.35],[9.2,-0.17,-0.26,-0.35],[9.5,-0.18,-0.27,-0.36],[9.8,-0.2,-0.3],[10,-0.25,-0.33],
[-0.8,-1.4],[-0.5,-1.2],[0.0,-1.35],[0.5,-1.5],[1.0,-1.3],[1.5,-1.2],[2.0,-1.4],[2.5,-1.15],[3.2,-1.3],[4.0,-1.1],[-0.3,-1.6],[0.8,-1.1],[-1.2,-1.25]];

// 26 M, Multiple-Cut vs Once-Cut
const counts_m26_mcoc=[7,69,90,16];
const m26_mcoc_germ=[[1.8,1.05],[2.1,1.0],[2.3,0.95],[2.6,0.85],[2.9,0.8],[3.3,0.75],[3.6,0.7],[4.0,0.6],[4.3,0.65],[4.6,0.55],[5.0,0.5],[5.3,0.55],[5.6,0.5],[6.0,0.45],[6.4,0.45],[7.0,0.4],[7.5,0.5],[8.2,0.35],[2.0,0.9],[3.0,0.9],[4.8,0.6]];
const m26_mcoc_neo=[];
const m26_mcoc_all=[[-0.3,1.65],[0.5,1.4],[0.7,1.55],[1.0,1.2],[1.2,1.1],[1.5,1.05],[2.5,1.2],[3.5,1.1],[5.5,1.0],[6.5,0.7],[7.5,0.55],[8.5,0.5],[9.0,0.45],[10,0.5],
[1.0,-0.92,-1.0],[1.3,-0.86,-0.96],[1.6,-0.8,-0.92],[1.9,-0.74,-0.86,-0.96],[2.2,-0.68,-0.8,-0.92,-1.1],[2.5,-0.63,-0.75],[2.8,-0.58,-0.7,-0.84],[3.1,-0.54,-0.66],[3.4,-0.5,-0.62,-0.76],[3.7,-0.47,-0.58],[4.0,-0.44,-0.55,-0.68],[4.3,-0.42,-0.52],[4.6,-0.4,-0.5,-0.62],[4.9,-0.38,-0.48],[5.2,-0.36,-0.46,-0.58],[5.5,-0.35,-0.44],[5.8,-0.34,-0.43,-0.54],[6.1,-0.33,-0.42],[6.4,-0.32,-0.41,-0.5],[6.8,-0.32,-0.4],[7.2,-0.32,-0.42],[7.6,-0.33,-0.45],[8.0,-0.35,-0.5],[8.4,-0.45,-0.6],
[-0.5,-1.2],[-1.0,-3.2],[0.0,-1.3],[0.5,-1.4],[0.8,-1.25],[1.0,-1.7],[1.3,-2.0],[1.5,-2.6],[1.7,-2.9],[1.6,-2.3],[2.0,-1.5,-1.9],[2.5,-1.8],[3.0,-1.3]];

// UpSet f and g
const setNames=['M4','M6','M10','M12','M26'];
const f_sizes=[690,650,612,355,347,208,143,142,133,114,110,78,54,48,35,34,34,31,30,30,27,22,21,14,9,7,7,6,2,2,1];
const f_sets=[['M12'],['M4','M6','M10','M12'],['M26'],['M4'],['M6'],['M10'],['M4','M6','M10'],['M4','M10','M12'],['M4','M6','M10','M26'],['M4','M6','M10','M12','M26'],['M4','M10'],['M10','M12'],['M12','M26'],['M6','M10'],['M4','M6'],['M4','M12'],['M10','M26'],['M6','M26'],['M4','M10','M26'],['M6','M10','M26'],['M6','M12'],['M6','M10','M12'],['M4','M12','M26'],['M4','M6','M12','M26'],['M4','M6','M12'],['M4','M6','M26'],['M6','M12','M26'],['M10','M12','M26'],['M4','M10','M12','M26'],['M4','M26'],['M6','M10','M12','M26']];
const f_ticks=[0,200,400,600];
const g_sizes=[833,802,420,293,278,93,83,74,56,50,35,31,19,17,17,17,15,15,11,9,7,6,4,4,2,2,1,1,1,1,1];
const g_sets=[['M12'],['M26'],['M6'],['M4'],['M10'],['M10','M12'],['M6','M12'],['M6','M26'],['M4','M12'],['M6','M10'],['M6','M10','M12'],['M12','M26'],['M6','M10','M12','M26'],['M4','M6','M12'],['M4','M10','M12'],['M4','M6','M10','M12'],['M10','M12','M26'],['M10','M26'],['M6','M10','M26'],['M4','M6'],['M4','M10'],['M4','M10','M12','M26'],['M4','M6','M10'],['M4','M26'],['M4','M12','M26'],['M4','M6','M10','M12','M26'],['M6','M12','M26'],['M4','M6','M12','M26'],['M4','M6','M26'],['M4','M10','M26'],['M4','M6','M10','M26']];
const g_ticks=[0,250,500,750];

// ---------- PANELS ----------
const PANELS=[
 {r:0,c:0,title:'4 M, Once-Cut vs Non-Cut',ratio:'OC/NC',counts:counts_m4_oc,all:m4_oc_all,germ:m4_oc_germ,neo:m4_oc_neo},
 {r:1,c:0,title:'6 M, Once-Cut vs Non-Cut',ratio:'OC/NC',counts:counts_m6_oc,all:m6_oc_all,germ:m6_oc_germ,neo:m6_oc_neo},
 {r:1,c:1,title:'6 M, Multiple-Cut vs Non-Cut',ratio:'MC/NC',counts:counts_m6_mc,all:m6_mc_all,germ:m6_mc_germ,neo:m6_mc_neo},
 {r:1,c:2,title:'6 M, Multiple-Cut vs Once-Cut',ratio:'MC/OC',counts:counts_m6_mcoc,all:m6_mcoc_all,germ:m6_mcoc_germ,neo:m6_mcoc_neo},
 {r:2,c:0,title:'10 M, Once-Cut vs Non-Cut',ratio:'OC/NC',counts:counts_m10_oc,all:m10_oc_all,germ:m10_oc_germ,neo:m10_oc_neo},
 {r:2,c:1,title:'10 M, Multiple-Cut vs Non-Cut',ratio:'MC/NC',counts:counts_m10_mc,all:m10_mc_all,germ:m10_mc_germ,neo:m10_mc_neo},
 {r:2,c:2,title:'10 M, Multiple-Cut vs Once-Cut',ratio:'MC/OC',counts:counts_m10_mcoc,all:m10_mcoc_all,germ:m10_mcoc_germ,neo:m10_mcoc_neo},
 {r:3,c:0,title:'12 M, Once-Cut vs Non-Cut',ratio:'OC/NC',counts:counts_m12_oc,all:m12_oc_all,germ:m12_oc_germ,neo:m12_oc_neo},
 {r:3,c:1,title:'12 M, Multiple-Cut vs Non-Cut',ratio:'MC/NC',counts:counts_m12_mc,all:m12_mc_all,germ:m12_mc_germ,neo:m12_mc_neo},
 {r:3,c:2,title:'12 M, Multiple-Cut vs Once-Cut',ratio:'MC/OC',counts:counts_m12_mcoc,all:m12_mcoc_all,germ:m12_mcoc_germ,neo:m12_mcoc_neo},
 {r:4,c:0,title:'26 M, Once-Cut vs Non-Cut',ratio:'OC/NC',counts:counts_m26_oc,all:m26_oc_all,germ:m26_oc_germ,neo:m26_oc_neo},
 {r:4,c:1,title:'26 M, Multiple-Cut vs Non-Cut',ratio:'MC/NC',counts:counts_m26_mc,all:m26_mc_all,germ:m26_mc_germ,neo:m26_mc_neo},
 {r:4,c:2,title:'26 M, Multiple-Cut vs Once-Cut',ratio:'MC/OC',counts:counts_m26_mcoc,all:m26_mcoc_all,germ:m26_mcoc_germ,neo:m26_mcoc_neo}
];

// ---------- LAYOUT / STYLE ----------
const W=709,H=1255;
const COLX=[[50,232],[283,467],[518,700]];
const ROWY=[[18,199],[268,450],[526,707],[781,963],[1037,1218]];
const FONT='Liberation Sans, Arial, sans-serif';
const C_ALL='#a9d7ea', C_GERM='#1f3f92', C_GERM_L='#0c1d52', C_NEO='#e9ae76', C_NEO_L='#a4703e';
const dX=(a,b)=>[a/W,b/W];
const dY=(t,b)=>[1-b/H,1-t/H];
function flat(cols){const x=[],y=[];cols.forEach(c=>{for(let i=1;i<c.length;i++){x.push(c[0]);y.push(c[i]);}});return {x,y};}
const BF=(size,color)=>({family:FONT,size:size,weight:'bold',color:color||'#111'});

const layout={width:W,height:H,margin:{l:0,r:0,t:0,b:0},paper_bgcolor:'#fff',plot_bgcolor:'rgba(0,0,0,0)',
 showlegend:false,font:{family:FONT,color:'#111'},annotations:[],shapes:[]};
const traces=[];

PANELS.forEach((p,i)=>{
 const k=i+1, s=(k===1?'':String(k)), xr='x'+s, yr='y'+s;
 const axBase={showline:true,mirror:true,linecolor:'#333',linewidth:1,ticks:'outside',ticklen:3,tickcolor:'#333',
   tickfont:BF(13),showgrid:false,zeroline:false,fixedrange:true};
 layout['xaxis'+s]=Object.assign({},axBase,{domain:dX(...COLX[p.c]),anchor:yr,range:[-2,10],tickvals:[-2,0,2,4,6,8,10],
   title:{text:'Average counts, log<sub>2</sub>(CPM)',font:BF(12),standoff:5}});
 layout['yaxis'+s]=Object.assign({},axBase,{domain:dY(...ROWY[p.r]),anchor:xr,range:[-4,4],tickvals:[-4,-2,0,2,4],
   title:{text:'Fold change, log<sub>2</sub>('+p.ratio+')',font:BF(12),standoff:9}});
 const A=flat(p.all), G=flat(p.germ), N=flat(p.neo);
 traces.push({type:'scatter',mode:'markers',x:A.x,y:A.y,xaxis:xr,yaxis:yr,name:'All',hoverinfo:'skip',
   marker:{size:6.5,color:C_ALL,line:{width:0}}});
 traces.push({type:'scatter',mode:'markers',x:G.x,y:G.y,xaxis:xr,yaxis:yr,name:'Germline',hoverinfo:'skip',
   marker:{size:6.5,color:C_GERM,line:{width:0.6,color:C_GERM_L}}});
 traces.push({type:'scatter',mode:'markers',x:N.x,y:N.y,xaxis:xr,yaxis:yr,name:'Neoblasts',hoverinfo:'skip',
   marker:{size:6.5,color:C_NEO,line:{width:0.6,color:C_NEO_L}}});
 [1,-1].forEach(v=>layout.shapes.push({type:'line',xref:xr+' domain',x0:0,x1:1,yref:yr,y0:v,y1:v,layer:'above',line:{color:'#555',width:1.1}}));
 const cy=[1,1,-1,-1], cs=[6,-8,6,-8];
 p.counts.forEach((v,j)=>layout.annotations.push({xref:xr+' domain',x:0,xshift:3,xanchor:'left',yref:yr,y:cy[j],yshift:cs[j],yanchor:'middle',
   text:String(v),showarrow:false,font:BF(10,'#222')}));
 layout.annotations.push({xref:xr+' domain',x:0.5,xanchor:'center',yref:yr+' domain',y:1,yshift:9,yanchor:'middle',
   text:p.title,showarrow:false,font:BF(12)});
 const leg=[['Germline',C_GERM,C_GERM_L,33.5],['Neoblasts',C_NEO,C_NEO_L,21],['All',C_ALL,C_ALL,8.6]];
 leg.forEach(l=>{
   layout.shapes.push({type:'circle',xref:xr+' domain',xsizemode:'pixel',xanchor:1,x0:-63,x1:-57.5,
     yref:yr+' domain',ysizemode:'pixel',yanchor:0,y0:l[3]-2.75,y1:l[3]+2.75,fillcolor:l[1],line:{color:l[2],width:0.6},layer:'above'});
   layout.annotations.push({xref:xr+' domain',x:1,xshift:-54,xanchor:'left',yref:yr+' domain',y:0,yshift:l[3],yanchor:'middle',
     text:l[0],showarrow:false,font:BF(10.5,'#222')});
 });
});

// ---------- UPSET PLOTS ----------
function upset(sizes,sets,ticks,ax,geo){
 const [xa,ya,ym]=ax;
 const idx=sizes.map((_,i)=>i+1);
 layout['xaxis'+xa]={domain:dX(geo.x0,geo.x1),anchor:'y'+ya,range:[0.4,31.5],showticklabels:false,ticks:'',showline:true,linecolor:'#444',linewidth:1,showgrid:false,zeroline:false,fixedrange:true};
 layout['yaxis'+ya]={domain:dY(0,geo.base),anchor:'x'+xa,range:[0,geo.ymax],tickvals:ticks,tickfont:{family:FONT,size:9,color:'#808080'},
   ticks:'outside',ticklen:2,tickcolor:'#808080',ticklabelshift:geo.shift,showline:true,linecolor:'#444',linewidth:1,showgrid:false,zeroline:false,fixedrange:true};
 layout['yaxis'+ym]={domain:dY(geo.m0,geo.m1),anchor:'x'+xa,range:[0.5,5.5],tickvals:[5,4,3,2,1],ticktext:setNames,
   tickfont:BF(10),ticks:'',showline:false,showgrid:false,zeroline:false,fixedrange:true};
 traces.push({type:'bar',x:idx,y:sizes,xaxis:'x'+xa,yaxis:'y'+ya,width:0.62,marker:{color:'#3b3b3b'},hoverinfo:'skip'});
 [5,3,1].forEach(r=>layout.shapes.push({type:'rect',xref:'x'+xa+' domain',x0:0,x1:1,yref:'y'+ym,y0:r-0.5,y1:r+0.5,fillcolor:'#f0f0f0',line:{width:0},layer:'below'}));
 const rowOf=n=>5-setNames.indexOf(n);
 const bx=[],by=[],lx=[],ly=[],fx=[],fy=[];
 idx.forEach((c,i)=>{
   for(let r=1;r<=5;r++){bx.push(c);by.push(r);}
   const rows=sets[i].map(rowOf);
   if(rows.length>1){lx.push(c,c,null);ly.push(Math.min(...rows),Math.max(...rows),null);}
   rows.forEach(r=>{fx.push(c);fy.push(r);});
 });
 traces.push({type:'scatter',mode:'markers',x:bx,y:by,xaxis:'x'+xa,yaxis:'y'+ym,marker:{size:4.6,color:'#dcdcdc'},hoverinfo:'skip'});
 traces.push({type:'scatter',mode:'lines',x:lx,y:ly,xaxis:'x'+xa,yaxis:'y'+ym,line:{color:'#3b3b3b',width:1.6},hoverinfo:'skip',connectgaps:false});
 traces.push({type:'scatter',mode:'markers',x:fx,y:fy,xaxis:'x'+xa,yaxis:'y'+ym,marker:{size:5,color:'#3b3b3b'},hoverinfo:'skip'});
 layout.annotations.push({xref:'paper',yref:'paper',x:geo.tx/W,y:1-geo.ty/H,text:'Intersection Size',textangle:-90,showarrow:false,
   xanchor:'center',yanchor:'middle',font:{family:FONT,size:11,color:'#444'}});
}
upset(f_sizes,f_sets,f_ticks,['14','14','15'],{x0:304.2,x1:464.6,base:152,ymax:735,m0:157.5,m1:213.5,tx:271,ty:54,shift:-4});
upset(g_sizes,g_sets,g_ticks,['16','16','17'],{x0:530.8,x1:696.4,base:151.7,ymax:843,m0:156,m1:213,tx:505,ty:62,shift:-4});

// panel letters
[['a',2,13],['b',2,247],['c',2,507],['d',2,762],['e',2,1012],['f',252,13],['g',482,15]].forEach(l=>
 layout.annotations.push({xref:'paper',yref:'paper',x:l[1]/W,y:1-l[2]/H,xanchor:'left',yanchor:'middle',text:l[0],showarrow:false,
   font:BF(14,'#000')}));

Plotly.newPlot('chart',traces,layout,{staticPlot:true,displayModeBar:false});
</script></body></html>
